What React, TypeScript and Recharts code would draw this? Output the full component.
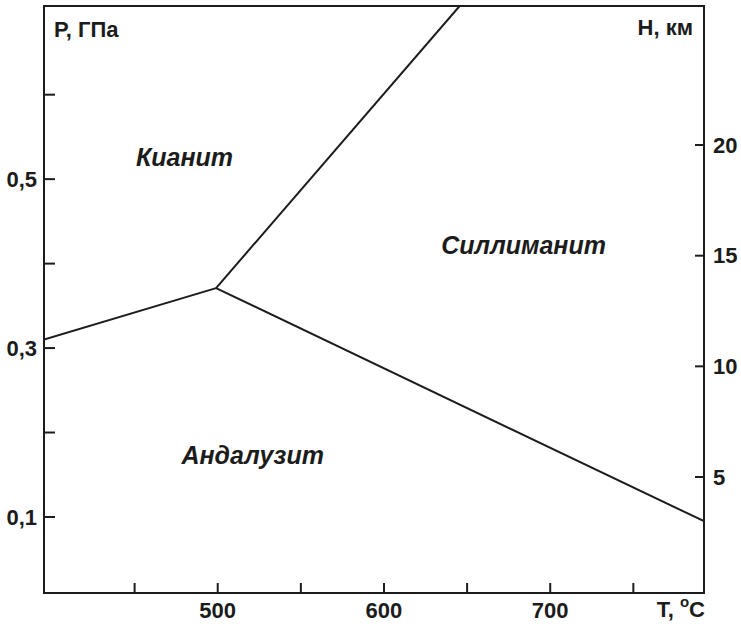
import {
  ComposedChart,
  Line,
  XAxis,
  YAxis,
  ReferenceArea,
  ReferenceDot,
  Label,
} from "recharts";

const tempTicks = [450, 500, 550, 600, 650, 700, 750];
const tempLabels = [500, 600, 700];
const pressureTicks = [0.1, 0.2, 0.3, 0.4, 0.5, 0.6];
const pressureLabels = [0.1, 0.3, 0.5];
const depthTicks = [5, 10, 15, 20];

const kyaniteAndalusite = [
  { T: 395.5, P: 0.31 },
  { T: 499, P: 0.371 },
];
const kyaniteSillimanite = [
  { T: 499, P: 0.371 },
  { T: 645.5, P: 0.705 },
];
const andalusiteSillimanite = [
  { T: 499, P: 0.371 },
  { T: 792.5, P: 0.095 },
];

const phases = [
  { name: "Кианит", T: 480, P: 0.526 },
  { name: "Силлиманит", T: 684, P: 0.422 },
  { name: "Андалузит", T: 521, P: 0.173 },
];

const tDomain = [395.5, 792.5];
const pDomain = [0.01, 0.705];
const hDomain = [-0.24, 26.28];

const INK = "#1c1c1c";
const FONT = '"Liberation Sans", Arial, sans-serif';
const tickStyle = { fontSize: 22, fontWeight: 700, fill: INK, fontFamily: FONT };

export default function App() {
  return (
    <div style={{ position: "absolute", left: 0, top: 0 }}>
      <ComposedChart
        width={741}
        height={624}
        margin={{ top: 6, right: 0, left: 0, bottom: 0 }}
      >
        <XAxis
          dataKey="T"
          type="number"
          domain={tDomain}
          ticks={tempTicks}
          allowDataOverflow
          height={31}
          tickSize={-10}
          tickMargin={19}
          tickFormatter={(v: number) => (tempLabels.includes(v) ? String(v) : "")}
          tick={tickStyle}
          tickLine={{ stroke: INK, strokeWidth: 2 }}
          axisLine={{ stroke: INK, strokeWidth: 2 }}
        >
          <Label
            content={(props: any) => {
              const vb = props.viewBox;
              return (
                <text
                  x={vb.x + vb.width + 1}
                  y={vb.y + 24}
                  textAnchor="end"
                  fontFamily={FONT}
                  fontSize={22}
                  fontWeight={700}
                  fill={INK}
                >
                  T,{" "}
                  <tspan fontSize={15} dy={-10}>
                    o
                  </tspan>
                  <tspan dy={10}>C</tspan>
                </text>
              );
            }}
          />
        </XAxis>
        <YAxis
          yAxisId="P"
          type="number"
          domain={pDomain}
          ticks={pressureTicks}
          allowDataOverflow
          width={44}
          tickSize={-11}
          tickMargin={18}
          tickFormatter={(v: number) =>
            pressureLabels.includes(v) ? v.toFixed(1).replace(".", ",") : ""
          }
          tick={tickStyle}
          tickLine={{ stroke: INK, strokeWidth: 2 }}
          axisLine={{ stroke: INK, strokeWidth: 2 }}
        >
          <Label
            content={(props: any) => {
              const vb = props.viewBox;
              return (
                <text
                  x={vb.x + vb.width + 10}
                  y={vb.y + 31}
                  fontFamily={FONT}
                  fontSize={22}
                  fontWeight={700}
                  fill={INK}
                >
                  P, ГПа
                </text>
              );
            }}
          />
        </YAxis>
        <YAxis
          yAxisId="H"
          orientation="right"
          type="number"
          domain={hDomain}
          ticks={depthTicks}
          allowDataOverflow
          width={37}
          tickSize={-9}
          tickMargin={18}
          tick={tickStyle}
          tickLine={{ stroke: INK, strokeWidth: 2 }}
          axisLine={{ stroke: INK, strokeWidth: 2 }}
        >
          <Label
            content={(props: any) => {
              const vb = props.viewBox;
              return (
                <text
                  x={vb.x - 11}
                  y={vb.y + 29}
                  textAnchor="end"
                  fontFamily={FONT}
                  fontSize={22}
                  fontWeight={700}
                  fill={INK}
                >
                  H, км
                </text>
              );
            }}
          />
        </YAxis>

        <ReferenceArea
          yAxisId="P"
          x1={tDomain[0]}
          x2={tDomain[1]}
          y1={pDomain[0]}
          y2={pDomain[1]}
          fill="none"
          stroke={INK}
          strokeWidth={2}
          fillOpacity={0}
        />

        <Line
          yAxisId="P"
          data={kyaniteAndalusite}
          dataKey="P"
          stroke={INK}
          strokeWidth={2}
          dot={false}
          isAnimationActive={false}
        />
        <Line
          yAxisId="P"
          data={kyaniteSillimanite}
          dataKey="P"
          stroke={INK}
          strokeWidth={2}
          dot={false}
          isAnimationActive={false}
        />
        <Line
          yAxisId="P"
          data={andalusiteSillimanite}
          dataKey="P"
          stroke={INK}
          strokeWidth={2}
          dot={false}
          isAnimationActive={false}
        />

        {phases.map((p) => (
          <ReferenceDot
            key={p.name}
            yAxisId="P"
            x={p.T}
            y={p.P}
            r={0}
            fill="none"
            stroke="none"
            label={{
              value: p.name,
              position: "center",
              fontSize: 25,
              fontWeight: 700,
              fontStyle: "italic",
              fontFamily: FONT,
              fill: INK,
            }}
          />
        ))}
      </ComposedChart>
    </div>
  );
}
